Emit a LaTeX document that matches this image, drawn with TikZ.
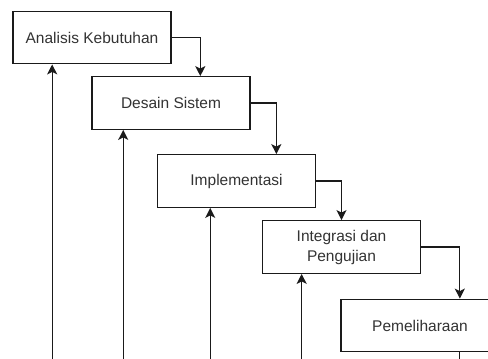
\documentclass[tikz,border=0pt]{standalone}
\usepackage{fontspec}
\setmainfont{Liberation Sans}
\usetikzlibrary{calc,arrows.meta}

\definecolor{boxline}{HTML}{1A1A1A}
\definecolor{boxtext}{HTML}{333333}
\tikzset{
  phase/.style={draw=boxline, line width=1.3pt, fill=white, text=boxtext,
    minimum width=158pt, minimum height=52.5pt, align=center, inner sep=0pt,
    font=\fontsize{15.5}{20}\selectfont},
  flow/.style={->, draw=boxline, line width=1.3pt}
}

\begin{document}
\begin{tikzpicture}[x=1pt,y=-1pt,>={Stealth[length=10pt,width=10pt,inset=2.5pt]}]
                \clip (0,0) rectangle (488,359);

                \node[phase] (analisis) at (92,37.5) {Analisis Kebutuhan};
                \node[phase] (desain) at (171,103) {Desain Sistem};
                \node[phase] (implementasi) at (236.5,181) {Implementasi};
                \node[phase] (integrasi) at (341.5,247) {Integrasi dan\\Pengujian};
                \node[phase] (pemeliharaan) at (420,325.5) {Pemeliharaan};

                % steps down
                \coordinate (D) at ($(desain.north west)!.684!(desain.north east)$);
                \draw[flow] (analisis.east) -| (D);

                \coordinate (I) at ($(implementasi.north west)!.75!(implementasi.north east)$);
                \draw[flow] (desain.east) -| (I);

                \coordinate (G) at ($(integrasi.north west)!.5!(integrasi.north east)$);
                \draw[flow] (implementasi.east) -| (G);

                \coordinate (P) at ($(pemeliharaan.north west)!.75!(pemeliharaan.north east)$);
                \draw[flow] (integrasi.east) -| (P);

                % feedback from below
                \coordinate (A) at ($(analisis.south west)!.25!(analisis.south east)$);
                \coordinate (A0) at (A |- 0,362);
                \draw[flow] (A0) -- (A);

                \coordinate (B) at ($(desain.south west)!.2!(desain.south east)$);
                \coordinate (B0) at (B |- 0,362);
                \draw[flow] (B0) -- (B);

                \coordinate (C) at ($(implementasi.south west)!.335!(implementasi.south east)$);
                \coordinate (C0) at (C |- 0,362);
                \draw[flow] (C0) -- (C);

                \coordinate (E) at ($(integrasi.south west)!.25!(integrasi.south east)$);
                \coordinate (E0) at (E |- 0,362);
                \draw[flow] (E0) -- (E);

                \coordinate (F) at ($(pemeliharaan.south west)!.75!(pemeliharaan.south east)$);
                \coordinate (F0) at (F |- 0,362);
                \draw[draw=boxline, line width=1.3pt] (F) -- (F0);
\end{tikzpicture}
\end{document}
